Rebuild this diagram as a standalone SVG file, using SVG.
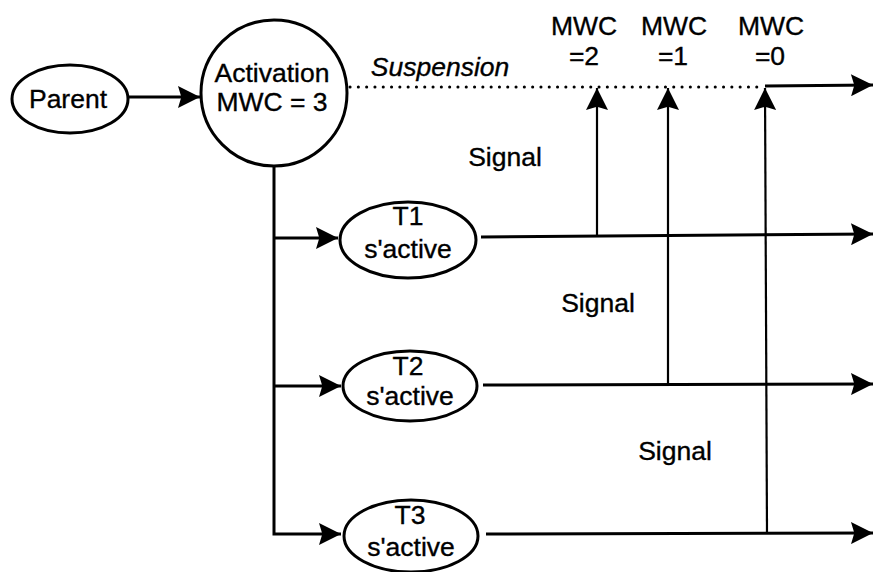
<svg xmlns="http://www.w3.org/2000/svg" width="873" height="572" viewBox="0 0 873 572">
<defs>
<style>
text{font-family:"Liberation Sans",Arial,sans-serif;font-size:26.5px;fill:#000;stroke:#000;stroke-width:0.35;text-anchor:middle}
.it{font-style:italic}
.node{fill:#fff;stroke:#000;stroke-width:3}
.ln{fill:none;stroke:#000;stroke-width:3}
.sig{fill:none;stroke:#000;stroke-width:2.2}
.dot{fill:none;stroke:#000;stroke-width:3;stroke-linecap:round;stroke-dasharray:0.1 8.2}
</style>
<marker id="ah" viewBox="0 0 10 10" refX="10" refY="5" markerWidth="23" markerHeight="22" markerUnits="userSpaceOnUse" orient="auto">
<path d="M0,0 L10,5 L0,10 L1.5,5 Z" fill="#000"/>
</marker>
</defs>
<rect width="873" height="572" fill="#fff"/>
<g id="connectors">
<line class="ln" x1="128" y1="97" x2="200" y2="97" marker-end="url(#ah)"/>
<line class="dot" x1="350" y1="87" x2="765" y2="87"/>
<line class="ln" x1="765" y1="86" x2="873" y2="85" marker-end="url(#ah)"/>
<polyline class="ln" points="274,165 274,534 341,534" marker-end="url(#ah)"/>
<line class="ln" x1="274" y1="238" x2="338" y2="238" marker-end="url(#ah)"/>
<line class="ln" x1="274" y1="386" x2="341" y2="386" marker-end="url(#ah)"/>
<line class="ln" x1="481" y1="237" x2="873" y2="234" marker-end="url(#ah)"/>
<line class="ln" x1="483" y1="385" x2="873" y2="384" marker-end="url(#ah)"/>
<line class="ln" x1="486" y1="534" x2="873" y2="533" marker-end="url(#ah)"/>
<line class="sig" x1="597" y1="236" x2="597" y2="88" marker-end="url(#ah)"/>
<line class="sig" x1="668" y1="385" x2="668" y2="88" marker-end="url(#ah)"/>
<line class="sig" x1="767" y1="533" x2="765" y2="88" marker-end="url(#ah)"/>
</g>
<g id="parent">
<ellipse class="node" cx="70" cy="99" rx="58" ry="34"/>
<text x="68" y="108">Parent</text>
</g>
<g id="activation">
<circle class="node" cx="274" cy="93" r="73"/>
<text x="272" y="82">Activation</text>
<text x="272" y="111">MWC = 3</text>
</g>
<g id="t1">
<ellipse class="node" cx="408" cy="240" rx="68" ry="38"/>
<text x="408" y="225">T1</text>
<text x="408" y="258">s'active</text>
</g>
<g id="t2">
<ellipse class="node" cx="410" cy="386" rx="67" ry="35"/>
<text x="408" y="375">T2</text>
<text x="410" y="405">s'active</text>
</g>
<g id="t3">
<ellipse class="node" cx="411" cy="536" rx="67" ry="36"/>
<text x="410" y="524">T3</text>
<text x="411" y="556">s'active</text>
</g>
<g id="labels">
<text class="it" x="440" y="76">Suspension</text>
<text x="584" y="35">MWC</text>
<text x="584" y="65">=2</text>
<text x="674" y="35">MWC</text>
<text x="673" y="65">=1</text>
<text x="771" y="35">MWC</text>
<text x="770" y="65">=0</text>
<text x="505" y="166">Signal</text>
<text x="598" y="312">Signal</text>
<text x="675" y="460">Signal</text>
</g>
</svg>
